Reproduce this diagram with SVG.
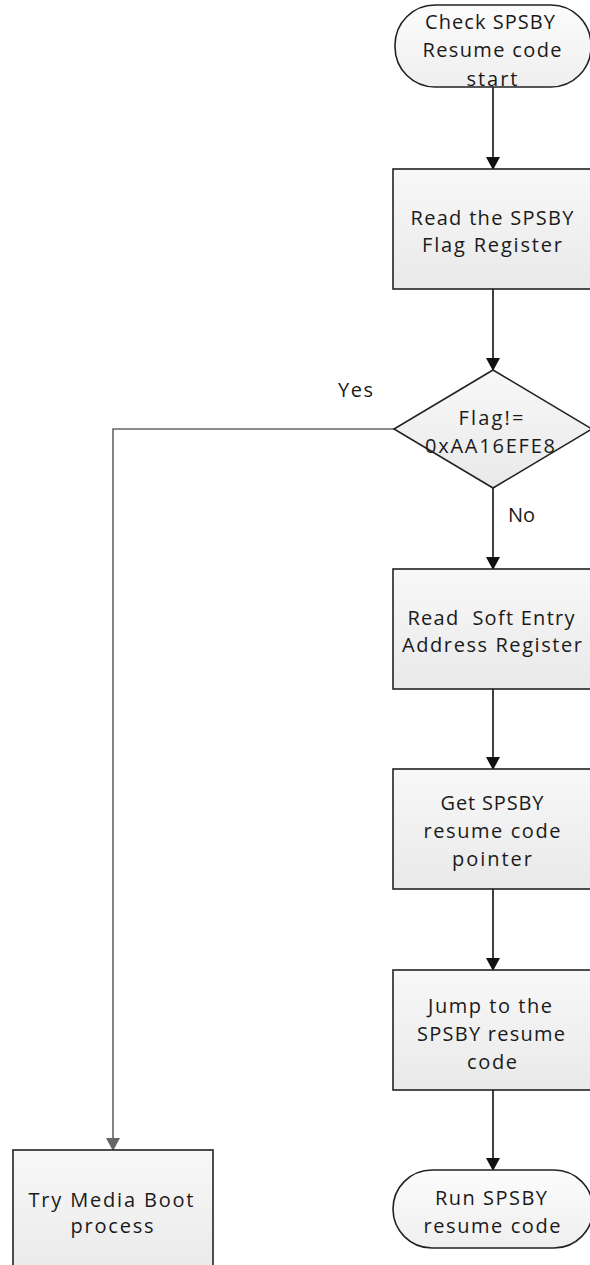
<svg xmlns="http://www.w3.org/2000/svg" width="590" height="1265" viewBox="0 0 590 1265">
<style>
.shape{fill:url(#g);stroke:#222;stroke-width:1.6}
.term{fill:url(#gt);stroke:#222;stroke-width:1.6}
.t{font-family:"Open Sans","Liberation Sans",sans-serif;font-size:20px;fill:#1a1a1a;text-anchor:middle}
.lbl{font-family:"Open Sans","Liberation Sans",sans-serif;font-size:20px;fill:#1a1a1a}
.c{fill:none;stroke:#111;stroke-width:1.6}
.cg{fill:none;stroke:#666;stroke-width:1.6}
</style>
<defs>
<linearGradient id="g" x1="0" y1="0" x2="0" y2="1"><stop offset="0" stop-color="#f8f8f8"/><stop offset="1" stop-color="#e9e9e9"/></linearGradient>
<linearGradient id="gt" x1="0" y1="0" x2="0" y2="1"><stop offset="0" stop-color="#fcfcfc"/><stop offset="1" stop-color="#efefef"/></linearGradient>
<marker id="a" markerWidth="13" markerHeight="14" refX="12" refY="7" orient="auto" markerUnits="userSpaceOnUse"><path d="M0,0 L13,7 L0,14 z" fill="#111"/></marker>
<marker id="ag" markerWidth="13" markerHeight="14" refX="12" refY="7" orient="auto" markerUnits="userSpaceOnUse"><path d="M0,0 L13,7 L0,14 z" fill="#666"/></marker>
</defs>
<g id="connectors">
<line class="c" x1="493" y1="87" x2="493" y2="169" marker-end="url(#a)"/>
<line class="c" x1="493" y1="289" x2="493" y2="370" marker-end="url(#a)"/>
<line class="c" x1="493" y1="488" x2="493" y2="569" marker-end="url(#a)"/>
<line class="c" x1="493" y1="689" x2="493" y2="769" marker-end="url(#a)"/>
<line class="c" x1="493" y1="889" x2="493" y2="970" marker-end="url(#a)"/>
<line class="c" x1="493" y1="1090" x2="493" y2="1170" marker-end="url(#a)"/>
<polyline class="cg" points="394,429 113,429 113,1150" marker-end="url(#ag)"/>
<text class="lbl" x="338" y="397" textLength="35" lengthAdjust="spacing">Yes</text>
<text class="lbl" x="508" y="522" textLength="27" lengthAdjust="spacing">No</text>
</g>
<g id="start">
<rect class="term" x="395" y="5" width="196" height="82" rx="40" ry="40"/>
<text class="t" x="490" y="29" textLength="130" lengthAdjust="spacing">Check SPSBY</text>
<text class="t" x="492" y="57" textLength="139" lengthAdjust="spacing">Resume code</text>
<text class="t" x="492" y="86" textLength="51" lengthAdjust="spacing">start</text>
</g>
<g id="readFlag">
<rect class="shape" x="393" y="169" width="200" height="120"/>
<text class="t" x="492" y="225" textLength="163" lengthAdjust="spacing">Read the SPSBY</text>
<text class="t" x="492" y="252" textLength="140" lengthAdjust="spacing">Flag Register</text>
</g>
<g id="decision">
<polygon class="shape" points="493,370 592,429 493,488 394,429"/>
<text class="t" x="491" y="425" textLength="65" lengthAdjust="spacing">Flag!=</text>
<text class="t" x="490" y="453" textLength="130" lengthAdjust="spacing">0xAA16EFE8</text>
</g>
<g id="readSoft">
<rect class="shape" x="393" y="569" width="200" height="120"/>
<text class="t" x="491" y="625" textLength="167" lengthAdjust="spacing" xml:space="preserve">Read  Soft Entry</text>
<text class="t" x="492" y="652" textLength="180" lengthAdjust="spacing">Address Register</text>
</g>
<g id="getPointer">
<rect class="shape" x="393" y="769" width="200" height="120"/>
<text class="t" x="492" y="810" textLength="103" lengthAdjust="spacing">Get SPSBY</text>
<text class="t" x="492" y="838" textLength="137" lengthAdjust="spacing">resume code</text>
<text class="t" x="492" y="866" textLength="80" lengthAdjust="spacing">pointer</text>
</g>
<g id="jump">
<rect class="shape" x="393" y="970" width="200" height="120"/>
<text class="t" x="490" y="1013" textLength="124" lengthAdjust="spacing">Jump to the</text>
<text class="t" x="491" y="1041" textLength="148" lengthAdjust="spacing">SPSBY resume</text>
<text class="t" x="492" y="1069" textLength="50" lengthAdjust="spacing">code</text>
</g>
<g id="run">
<rect class="term" x="393" y="1170" width="200" height="78" rx="39" ry="39"/>
<text class="t" x="491" y="1205" textLength="112" lengthAdjust="spacing">Run SPSBY</text>
<text class="t" x="492" y="1233" textLength="137" lengthAdjust="spacing">resume code</text>
</g>
<g id="mediaBoot">
<rect class="shape" x="13" y="1150" width="200" height="130"/>
<text class="t" x="111" y="1207" textLength="165" lengthAdjust="spacing">Try Media Boot</text>
<text class="t" x="112" y="1233" textLength="83" lengthAdjust="spacing">process</text>
</g>
</svg>
